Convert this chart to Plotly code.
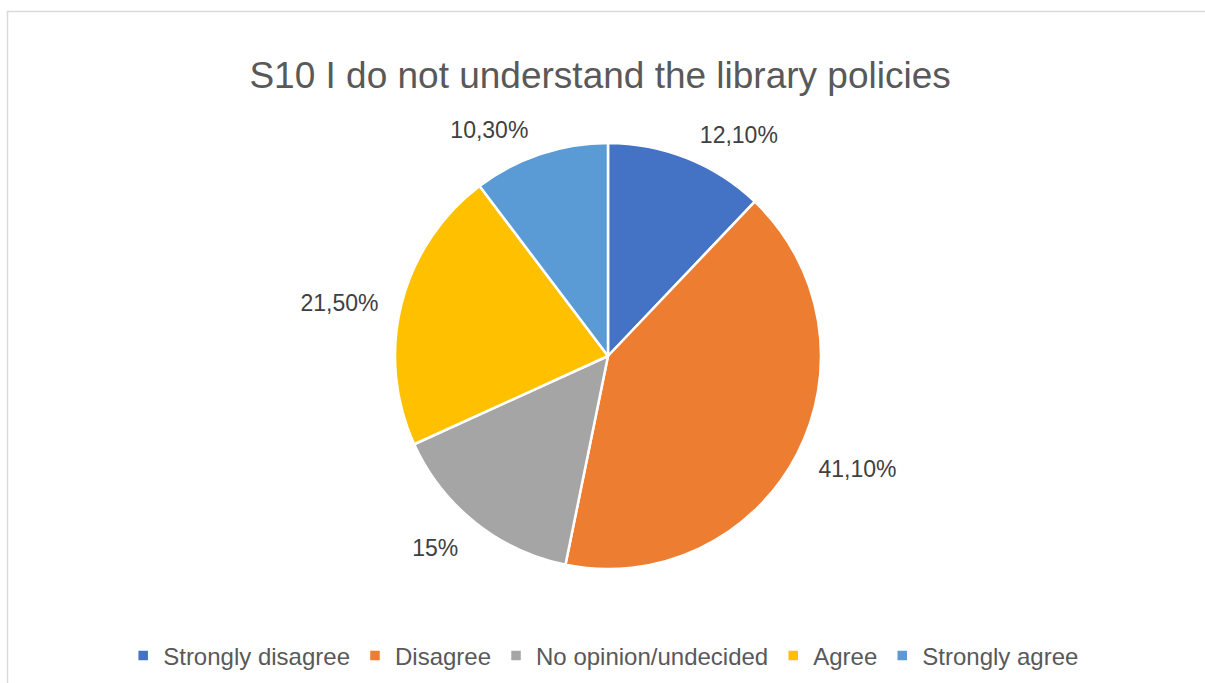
import plotly.graph_objects as go

# Survey responses for statement S10
categories = ["Strongly disagree", "Disagree", "No opinion/undecided", "Agree", "Strongly agree"]
shares = [12.1, 41.1, 15.0, 21.5, 10.3]
colors = ["#4472C4", "#ED7D31", "#A5A5A5", "#FFC000", "#5B9BD5"]
title_text = "S10 I do not understand the library policies"


def fmt_pct(v):
    # Decimal comma, whole numbers without decimals
    if float(v).is_integer():
        return f"{int(v)}%"
    return f"{v:.2f}%".replace(".", ",")


labels_text = [fmt_pct(v) for v in shares]

W, H = 1205, 683
cx, cy, r = 608, 356, 213
cy_lab, r_lab = 360, 230  # slightly larger ring that carries the outside data labels
FONT = "Liberation Sans, Arial"


def domain(center_y, radius):
    return dict(
        x=[(cx - radius) / W, (cx + radius) / W],
        y=[(H - center_y - radius) / H, (H - center_y + radius) / H],
    )


fig = go.Figure()

# Transparent copy of the pie, a little larger, used only for the data labels
fig.add_trace(
    go.Pie(
        labels=categories,
        values=shares,
        text=labels_text,
        textinfo="text",
        textposition="outside",
        textfont=dict(family=FONT, size=23, color="#404040"),
        marker=dict(colors=["rgba(0,0,0,0)"] * len(shares), line=dict(width=0)),
        sort=False,
        direction="clockwise",
        rotation=0,
        showlegend=False,
        hoverinfo="skip",
        domain=domain(cy_lab, r_lab),
    )
)

# Visible pie
fig.add_trace(
    go.Pie(
        labels=categories,
        values=shares,
        textinfo="none",
        marker=dict(colors=colors, line=dict(color="white", width=2.5)),
        sort=False,
        direction="clockwise",
        rotation=0,
        showlegend=True,
        domain=domain(cy, r),
    )
)

fig.update_layout(
    width=W,
    height=H,
    margin=dict(l=0, r=0, t=0, b=0),
    paper_bgcolor="white",
    plot_bgcolor="white",
    title=dict(
        text=title_text,
        x=0.498,
        xanchor="center",
        y=1 - 75 / H,
        yanchor="middle",
        font=dict(family=FONT, size=37, color="#595959"),
    ),
    legend=dict(
        orientation="h",
        x=0.501,
        xanchor="center",
        y=1 - 656 / H,
        yanchor="middle",
        font=dict(family=FONT, size=24, color="#595959"),
        itemwidth=30,
        traceorder="normal",
    ),
    shapes=[
        dict(
            type="rect",
            xref="paper",
            yref="paper",
            x0=7.5 / W,
            x1=1.01,
            y0=-0.01,
            y1=1 - 11.5 / H,
            line=dict(color="#D9D9D9", width=1.5),
            fillcolor="rgba(0,0,0,0)",
            layer="below",
        )
    ],
)

fig.write_html("out.html")
